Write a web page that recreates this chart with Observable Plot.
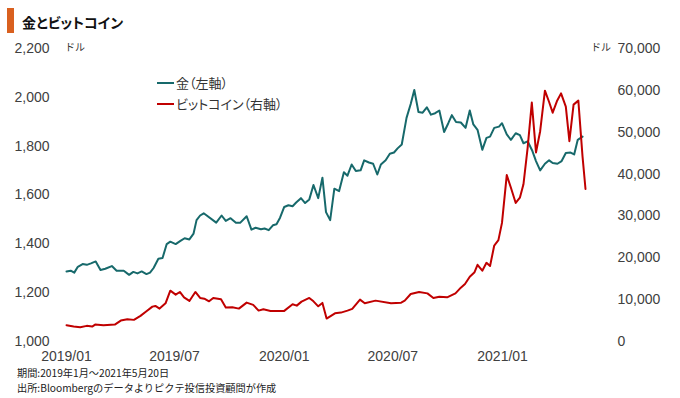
<!DOCTYPE html>
<html>
<head>
<meta charset="utf-8">
<script src="https://cdn.jsdelivr.net/npm/d3@7"></script>
<script src="https://cdn.jsdelivr.net/npm/@observablehq/plot@0.6"></script>
<style>
  html, body { margin: 0; padding: 0; background: #fff; }
  #wrap { position: relative; width: 680px; height: 398px; overflow: hidden;
          font-family: "Liberation Sans", "Noto Sans CJK JP", sans-serif; color: #404040; }
  #wrap svg { position: absolute; left: 0; top: 0; }
  .abs { position: absolute; white-space: nowrap; line-height: 1.2; }
  #titlebar { left: 7px; top: 8px; width: 7px; height: 25px; background: #d9601f; }
  #title { left: 22px; top: 14px; font-size: 14px; font-weight: bold; color: #111;
           font-family: "Noto Sans CJK JP", sans-serif; font-feature-settings: "palt"; }
  .unit { font-size: 10px; font-family: "Noto Sans CJK JP", sans-serif; color: #333; }
  .leg { font-size: 13px; font-family: "Noto Sans CJK JP", sans-serif; color: #333; display: flex; align-items: center;
         font-feature-settings: "palt"; }
  .leg span.sw { display: inline-block; width: 17px; height: 2px; margin-right: 2px; }
  .cap { font-size: 10.2px; line-height: 12px; font-family: "Noto Sans CJK JP", sans-serif; color: #222; }
</style>
</head>
<body>
<div id="wrap">
  <div class="abs" id="titlebar"></div>
  <div class="abs" id="title">金とビットコイン</div>
</div>
<script>
// ---- data ----
const goldDates = ["2019-01-01","2019-01-08","2019-01-14","2019-01-20","2019-01-28","2019-02-04","2019-02-11","2019-02-19","2019-02-27","2019-03-07","2019-03-18","2019-03-26","2019-04-07","2019-04-16","2019-04-23","2019-04-30","2019-05-07","2019-05-15","2019-05-21","2019-05-27","2019-06-04","2019-06-11","2019-06-18","2019-06-24","2019-07-03","2019-07-11","2019-07-18","2019-07-26","2019-08-02","2019-08-07","2019-08-13","2019-08-19","2019-09-09","2019-09-18","2019-09-25","2019-10-03","2019-10-12","2019-10-19","2019-10-30","2019-11-07","2019-11-14","2019-11-23","2019-11-29","2019-12-06","2019-12-13","2019-12-19","2019-12-25","2020-01-01","2020-01-08","2020-01-15","2020-01-21","2020-01-29","2020-02-05","2020-02-12","2020-02-19","2020-02-27","2020-03-05","2020-03-11","2020-03-18","2020-03-25","2020-04-02","2020-04-10","2020-04-16","2020-04-23","2020-04-30","2020-05-08","2020-05-14","2020-05-22","2020-05-29","2020-06-05","2020-06-11","2020-06-19","2020-06-26","2020-07-03","2020-07-09","2020-07-16","2020-07-24","2020-07-31","2020-08-06","2020-08-13","2020-08-20","2020-08-27","2020-09-03","2020-09-10","2020-09-17","2020-09-25","2020-10-02","2020-10-08","2020-10-15","2020-10-23","2020-10-31","2020-11-07","2020-11-13","2020-11-20","2020-11-28","2020-12-05","2020-12-11","2020-12-18","2020-12-26","2020-12-31","2021-01-08","2021-01-15","2021-01-23","2021-01-30","2021-02-05","2021-02-12","2021-02-20","2021-02-26","2021-03-05","2021-03-13","2021-03-20","2021-03-26","2021-04-03","2021-04-10","2021-04-17","2021-04-25","2021-05-01","2021-05-07","2021-05-15"];
const goldValues = [1287,1290,1282,1306,1317,1314,1320,1328,1293,1298,1309,1290,1290,1273,1285,1279,1287,1276,1282,1301,1339,1342,1399,1409,1399,1412,1423,1418,1442,1497,1516,1525,1487,1516,1494,1505,1486,1486,1513,1458,1466,1460,1463,1456,1476,1480,1507,1551,1558,1554,1569,1587,1567,1582,1641,1587,1671,1530,1497,1626,1616,1693,1679,1725,1698,1701,1742,1733,1728,1684,1725,1742,1769,1774,1791,1807,1916,1973,2030,1940,1937,1959,1929,1935,1946,1858,1894,1927,1899,1897,1875,1946,1889,1867,1785,1834,1839,1875,1880,1894,1848,1826,1853,1845,1812,1820,1780,1739,1701,1728,1742,1731,1728,1739,1772,1774,1766,1826,1839];

const btcDates = ["2019-01-01","2019-01-13","2019-01-24","2019-02-04","2019-02-13","2019-02-18","2019-03-04","2019-03-23","2019-04-02","2019-04-13","2019-04-24","2019-05-05","2019-05-15","2019-05-25","2019-05-30","2019-06-06","2019-06-16","2019-06-24","2019-07-03","2019-07-10","2019-07-17","2019-07-26","2019-08-05","2019-08-13","2019-08-20","2019-08-28","2019-09-04","2019-09-17","2019-09-25","2019-10-06","2019-10-17","2019-10-30","2019-11-10","2019-11-19","2019-11-27","2019-12-09","2020-01-01","2020-01-15","2020-01-22","2020-01-30","2020-02-12","2020-02-19","2020-02-27","2020-03-05","2020-03-12","2020-03-26","2020-04-05","2020-04-16","2020-04-24","2020-05-07","2020-05-15","2020-06-02","2020-06-28","2020-07-15","2020-07-21","2020-07-31","2020-08-14","2020-08-28","2020-09-07","2020-09-17","2020-09-30","2020-10-14","2020-10-23","2020-10-30","2020-11-07","2020-11-15","2020-11-20","2020-11-28","2020-12-05","2020-12-11","2020-12-18","2020-12-25","2020-12-31","2021-01-08","2021-01-15","2021-01-23","2021-01-30","2021-02-05","2021-02-12","2021-02-19","2021-02-26","2021-03-05","2021-03-13","2021-03-20","2021-03-26","2021-04-02","2021-04-09","2021-04-17","2021-04-23","2021-04-30","2021-05-08","2021-05-15","2021-05-20"];
const btcValues = [3880,3571,3405,3738,3571,4048,3880,4048,5000,5310,5167,6119,7214,8333,8500,7857,9119,12143,11190,11833,10548,9690,11833,10405,10238,9595,10405,10071,8095,8167,7857,9286,8738,7381,7690,7310,7310,8881,8571,9524,10405,9595,8405,9214,5476,6738,6905,7381,7800,10000,9119,9762,9119,9286,9762,11357,11833,11500,10405,10714,10548,11500,12860,13738,15476,16548,18333,16905,18810,18024,22929,24214,28333,39762,36738,33095,34357,37548,46262,57071,45167,50238,59929,57214,54667,57381,59286,56095,47857,56595,57548,44214,36429];

const leftTicks = [1000,1200,1400,1600,1800,2000,2200];
const rightTicks = [0,10000,20000,30000,40000,50000,60000,70000];
const xTickDates = ["2019-01-01","2019-07-01","2020-01-01","2020-07-01","2021-01-01"];
const seriesNames = ["金（左軸）","ビットコイン（右軸）"];
const seriesColors = ["#17696b","#c00000"];

// ---- build ----
const parse = d3.utcParse("%Y-%m-%d");
const gold = goldDates.map((d, i) => ({date: parse(d), value: goldValues[i]}));
const btcToLeft = d3.scaleLinear().domain([0, 70000]).range([1000, 2200]);
const btc = btcDates.map((d, i) => ({date: parse(d), value: btcToLeft(btcValues[i])}));

const fmt = d3.format(",");
const chart = Plot.plot({
  width: 680,
  height: 398,
  marginLeft: 66,
  marginRight: 95,
  marginTop: 48,
  marginBottom: 57,
  style: {fontFamily: "'Liberation Sans', 'Noto Sans CJK JP', sans-serif", fontSize: "14px", color: "#404040", background: "transparent"},
  x: {type: "utc", domain: [parse("2019-01-01"), parse("2021-05-20")]},
  y: {domain: [1000, 2200]},
  marks: [
    Plot.axisY(leftTicks, {anchor: "left", tickSize: 0, tickPadding: 17, tickFormat: d => fmt(d), label: null, fontSize: 14}),
    Plot.axisY(rightTicks.map(v => btcToLeft(v)), {anchor: "right", tickSize: 0, tickPadding: 32, textAnchor: "start",
      tickFormat: d => fmt(Math.round(btcToLeft.invert(d))), label: null, fontSize: 14}),
    Plot.axisX(xTickDates.map(parse), {anchor: "bottom", tickSize: 0, tickPadding: 10, tickFormat: d3.utcFormat("%Y/%m"), label: null, fontSize: 14,
      style: {letterSpacing: "0.8px"}}),
    Plot.line(gold, {x: "date", y: "value", stroke: seriesColors[0], strokeWidth: 2}),
    Plot.line(btc, {x: "date", y: "value", stroke: seriesColors[1], strokeWidth: 2})
  ]
});
const wrap = document.getElementById("wrap");
wrap.insertBefore(chart, wrap.firstChild);

function addDiv(cls, html, left, top) {
  const el = document.createElement("div");
  el.className = "abs " + cls;
  el.innerHTML = html;
  el.style.left = left + "px";
  el.style.top = top + "px";
  wrap.appendChild(el);
  return el;
}
addDiv("unit", "ドル", 65, 41);
addDiv("unit", "ドル", 591, 41);
seriesNames.forEach((n, i) => {
  addDiv("leg", `<span class="sw" style="background:${seriesColors[i]}"></span>${n}`, 157, 75 + i * 21);
});
addDiv("cap", "期間:2019年1月～2021年5月20日", 17, 367);
addDiv("cap", "出所:Bloombergのデータよりピクテ投信投資顧問が作成", 17, 382);
</script>
</body>
</html>
